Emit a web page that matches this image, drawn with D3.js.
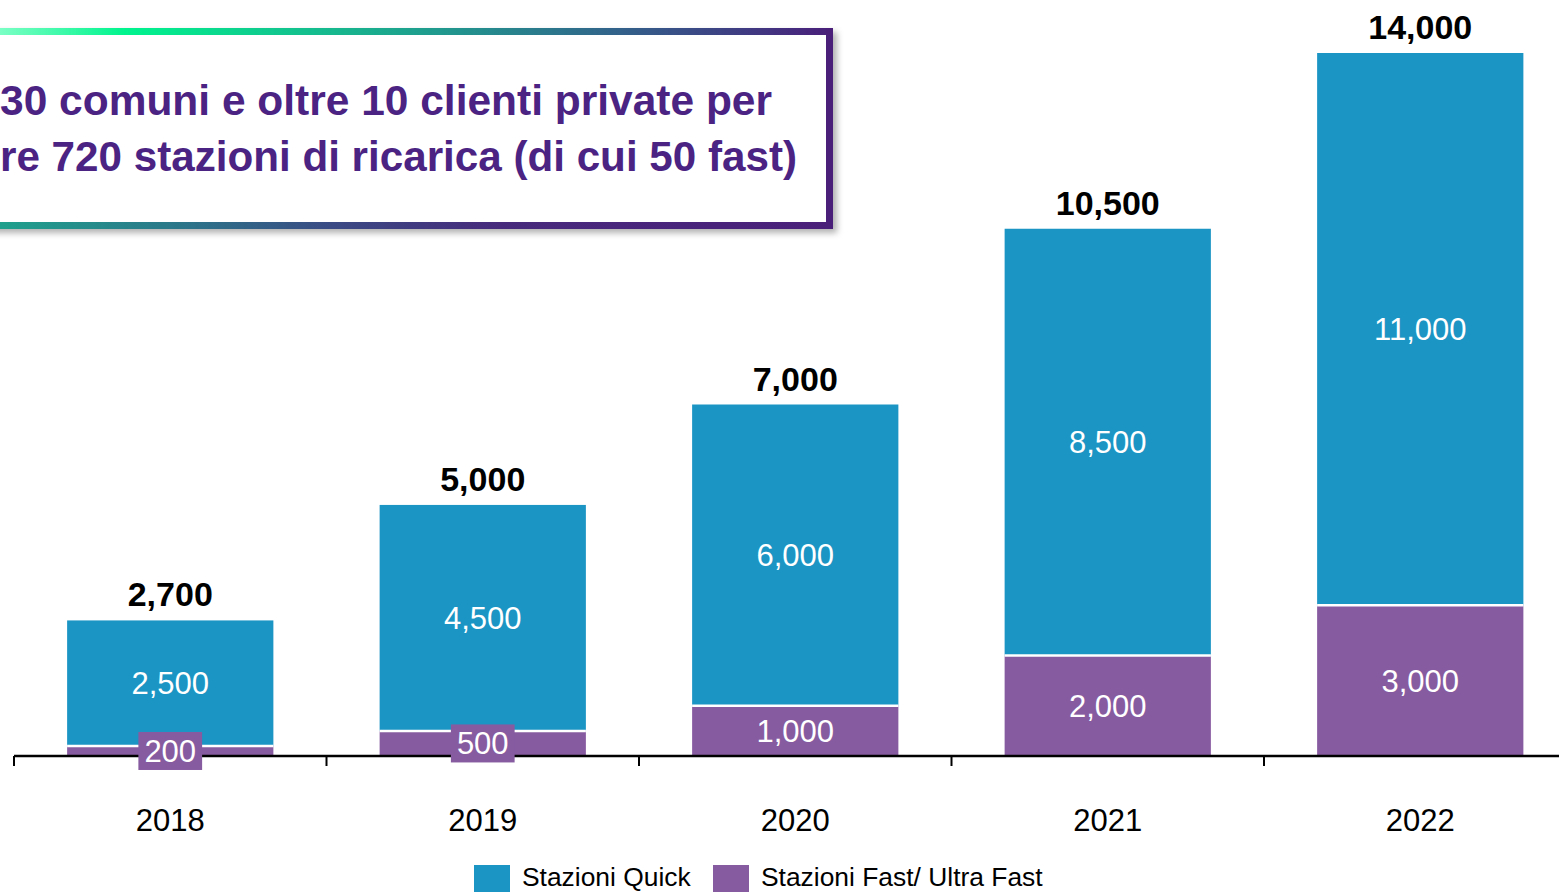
<!DOCTYPE html>
<html lang="it">
<head>
<meta charset="utf-8">
<title>Stazioni di ricarica</title>
<style>
  body { margin: 0; background: #fff; }
  svg { display: block; font-family: "Liberation Sans", Arial, Helvetica, sans-serif; }
</style>
<script src="https://cdn.jsdelivr.net/npm/d3@7"></script>
</head>
<body>
<script>
var w = 1559, h = 892;

// data
var years = ['2018', '2019', '2020', '2021', '2022'];
var fast = [200, 500, 1000, 2000, 3000];
var quick = [2500, 4500, 6000, 8500, 11000];
var totals = [2700, 5000, 7000, 10500, 14000];
var seriesNames = ['Stazioni Quick', 'Stazioni Fast/ Ultra Fast'];
var titleLines = ['30 comuni e oltre 10 clienti private per',
                  're 720 stazioni di ricarica (di cui 50 fast)'];

var cQuick = '#1b95c4';
var cFast = '#875ba0';
var cTitle = '#4b2382';

var svg = d3.select('body').append('svg').attr('width', w).attr('height', h);

var x = d3.scaleBand().domain(years).range([14, 14 + 312.5 * 5]).paddingInner(0.34).paddingOuter(0.17);
var y = d3.scaleLinear().domain([0, 14000]).range([756, 53]);

var fmt = d3.format(',');

var rows = years.map(function(yr, i) {
  return {year: yr, fast: fast[i], quick: quick[i], total: totals[i]};
});

// bars
var g = svg.append('g');
rows.forEach(function(d) {
  g.append('rect')
    .attr('x', x(d.year)).attr('width', x.bandwidth())
    .attr('y', y(d.fast + d.quick)).attr('height', y(d.fast) - y(d.fast + d.quick))
    .attr('fill', cQuick);
  g.append('rect')
    .attr('x', x(d.year)).attr('width', x.bandwidth())
    .attr('y', y(d.fast)).attr('height', y(0) - y(d.fast))
    .attr('fill', cFast);
  // white separator
  g.append('line')
    .attr('x1', x(d.year)).attr('x2', x(d.year) + x.bandwidth())
    .attr('y1', y(d.fast)).attr('y2', y(d.fast))
    .attr('stroke', '#fff').attr('stroke-width', 2.5);
});

// axis
var axis = svg.append('g');
axis.append('line').attr('x1', 14).attr('x2', w).attr('y1', 756).attr('y2', 756)
  .attr('stroke', '#000').attr('stroke-width', 2.5);
years.forEach(function(yr) {
  var tx = x(yr) - (x.step() - x.bandwidth()) / 2;
  axis.append('line').attr('x1', tx).attr('x2', tx).attr('y1', 756).attr('y2', 766)
    .attr('stroke', '#000').attr('stroke-width', 2);
});
svg.selectAll('text.cat').data(rows).enter().append('text')
  .attr('class', 'cat')
  .attr('x', function(d) { return x(d.year) + x.bandwidth() / 2; })
  .attr('y', 831)
  .attr('text-anchor', 'middle')
  .attr('font-size', 31)
  .attr('fill', '#000')
  .text(function(d) { return d.year; });

// segment labels (on top of axis)
var lab = svg.append('g');
function segLabel(d, v, base, color) {
  var cx = x(d.year) + x.bandwidth() / 2;
  var cy = (y(base) + y(base + v)) / 2;
  var segH = y(base) - y(base + v);
  var bg = lab.append('rect');
  var t = lab.append('text')
    .attr('x', cx).attr('y', cy + 11)
    .attr('text-anchor', 'middle')
    .attr('font-size', 31)
    .attr('fill', '#fff')
    .text(fmt(v));
  if (segH < 34) {
    var bw = t.node().getComputedTextLength() + 12;
    bg.attr('x', cx - bw / 2).attr('y', cy - 19)
      .attr('width', bw).attr('height', 38)
      .attr('fill', color);
  } else {
    bg.remove();
  }
}
rows.forEach(function(d) {
  segLabel(d, d.quick, d.fast, cQuick);
  segLabel(d, d.fast, 0, cFast);
});

// totals
svg.selectAll('text.tot').data(rows).enter().append('text')
  .attr('class', 'tot')
  .attr('x', function(d) { return x(d.year) + x.bandwidth() / 2; })
  .attr('y', function(d) { return y(d.total) - 14; })
  .attr('text-anchor', 'middle')
  .attr('font-size', 34)
  .attr('font-weight', 'bold')
  .attr('fill', '#000')
  .text(function(d) { return fmt(d.total); });

// title box
var defs = svg.append('defs');
var f = defs.append('filter').attr('id', 'shadow').attr('x', '-10%').attr('y', '-10%').attr('width', '130%').attr('height', '140%');
f.append('feDropShadow').attr('dx', 4).attr('dy', 4).attr('stdDeviation', 3).attr('flood-color', '#000').attr('flood-opacity', 0.3);

var gTop = defs.append('linearGradient').attr('id', 'gtop').attr('gradientUnits', 'userSpaceOnUse')
  .attr('x1', 0).attr('x2', 832).attr('y1', 0).attr('y2', 0);
[[0, '#7affc4'], [0.15, '#00f48e'], [0.35, '#12c48e'], [0.55, '#22948e'], [0.75, '#33608a'], [0.9, '#403a82'], [1, '#4a1f7a']]
  .forEach(function(s) { gTop.append('stop').attr('offset', s[0]).attr('stop-color', s[1]); });
var gBot = defs.append('linearGradient').attr('id', 'gbot').attr('gradientUnits', 'userSpaceOnUse')
  .attr('x1', 0).attr('x2', 832).attr('y1', 0).attr('y2', 0);
[[0, '#1fa08c'], [0.2, '#2a7a8a'], [0.4, '#3a4a84'], [0.6, '#472a7c'], [1, '#4a1f7a']]
  .forEach(function(s) { gBot.append('stop').attr('offset', s[0]).attr('stop-color', s[1]); });

var box = svg.append('g');
box.append('rect').attr('x', -20).attr('y', 28).attr('width', 853).attr('height', 201)
  .attr('fill', '#fff').attr('filter', 'url(#shadow)');
box.append('rect').attr('x', -20).attr('y', 28).attr('width', 853).attr('height', 7).attr('fill', 'url(#gtop)');
box.append('rect').attr('x', -20).attr('y', 222).attr('width', 853).attr('height', 7).attr('fill', 'url(#gbot)');
box.append('rect').attr('x', 826).attr('y', 28).attr('width', 7).attr('height', 201).attr('fill', '#4a1f7a');
var titleW = [772, 797];
box.selectAll('text').data(titleLines).enter().append('text')
  .attr('x', 0)
  .attr('y', function(d, i) { return 115 + i * 56; })
  .attr('font-size', 42.6)
  .attr('font-weight', 'bold')
  .attr('fill', cTitle)
  .attr('textLength', function(d, i) { return titleW[i]; })
  .attr('lengthAdjust', 'spacingAndGlyphs')
  .text(function(d) { return d; });

// legend
var leg = svg.append('g');
var legX = [474, 713];
var legC = [cQuick, cFast];
seriesNames.forEach(function(n, i) {
  leg.append('rect').attr('x', legX[i]).attr('y', 865).attr('width', 36).attr('height', 36).attr('fill', legC[i]);
  leg.append('text').attr('x', legX[i] + 48).attr('y', 886).attr('font-size', 26.4).attr('fill', '#000').text(n);
});
</script>
</body>
</html>
